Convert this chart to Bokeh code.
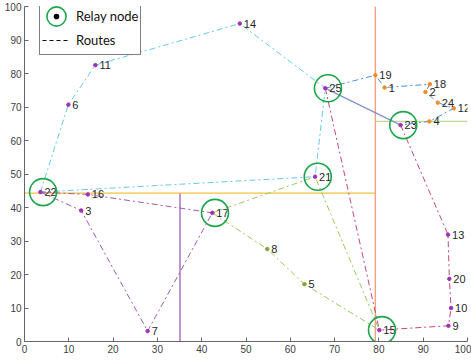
import numpy as np
from bokeh.plotting import figure
from bokeh.models import ColumnDataSource, Legend, LegendItem, Range1d, FixedTicker
from bokeh.embed import file_html
from bokeh.resources import INLINE
from bokeh.core.properties import value
from bokeh.transform import dodge

# ---------------- data ----------------
node_ids = list(range(1, 26))
node_x = [81.3, 90.5, 12.8, 91.4, 63.2, 9.9, 27.8, 54.8, 95.7, 96.3, 16.0, 96.9, 95.6,
          48.6, 80.1, 14.3, 42.4, 91.5, 79.2, 95.9, 65.6, 3.6, 84.9, 93.3, 67.9]
node_y = [75.8, 74.5, 39.1, 65.7, 17.1, 70.7, 3.1, 27.6, 4.7, 10.0, 82.5, 69.6, 31.9,
          94.9, 3.4, 43.9, 38.4, 76.8, 79.5, 18.7, 49.2, 44.6, 64.6, 71.3, 75.6]

relay_nodes = [22, 17, 21, 25, 23, 15]
orange_nodes = [1, 2, 4, 12, 18, 19, 24]
green_nodes = [5, 8]

route_lightblue = [[22, 6, 11, 14, 25, 21, 22]]
route_blue = [[25, 19, 1, 18, 2, 24, 12, 4, 23]]
route_red = [[25, 15], [23, 13, 20, 10, 9, 15]]
route_purple = [[22, 16, 17], [22, 3, 7, 17]]
route_green = [[17, 21, 15], [17, 8, 5, 15]]
direct_link = [[25, 23]]

# partition boundaries
part_x0 = [35.1, 0.0, 79.2, 79.2]
part_y0 = [0.0, 44.3, 0.0, 65.7]
part_x1 = [35.1, 79.2, 79.2, 100.0]
part_y1 = [44.3, 44.3, 100.0, 65.7]
part_colors = ["#a268bd", "#f7c040", "#f4a07c", "#bbdc96"]

ticks = list(range(0, 101, 10))

# ---------------- helpers ----------------
pos = {n: (x, y) for n, x, y in zip(node_ids, node_x, node_y)}

def paths(routes):
    xs = [[pos[n][0] for n in r] for r in routes]
    ys = [[pos[n][1] for n in r] for r in routes]
    return xs, ys

# ---------------- figure ----------------
p = figure(width=471, height=362, x_range=Range1d(0, 100), y_range=Range1d(0, 100),
           output_backend="svg", toolbar_location=None,
           min_border_left=24, min_border_right=4, min_border_top=6, min_border_bottom=21)
p.outline_line_color = None
p.xgrid.grid_line_color = None
p.ygrid.grid_line_color = None
p.background_fill_color = "white"

for ax in (p.xaxis[0], p.yaxis[0]):
    ax.ticker = FixedTicker(ticks=ticks)
    ax.major_tick_in = 4
    ax.major_tick_out = 0
    ax.minor_tick_in = 0
    ax.minor_tick_out = 0
    ax.axis_line_color = "#666666"
    ax.major_tick_line_color = "#666666"
    ax.major_label_text_font = "Liberation Sans"
    ax.major_label_text_font_size = "10px"
    ax.major_label_text_color = "#404040"
    ax.major_label_standoff = 3

# partition lines
p.segment(x0=part_x0, y0=part_y0, x1=part_x1, y1=part_y1,
          line_color=part_colors, line_width=1.4)

dash = "6 3 2 3"
xs, ys = paths(direct_link)
p.multi_line(xs, ys, line_color="#d2708a", line_width=1.6, line_alpha=0.45)
p.multi_line(xs, ys, line_color="#4a8fdc", line_width=0.9)

for routes, col in ((route_lightblue, "#66c8ee"), (route_blue, "#4a8fdc"),
                    (route_red, "#c44a6a"), (route_purple, "#a05ab8"),
                    (route_green, "#9cc958")):
    xs, ys = paths(routes)
    p.multi_line(xs, ys, line_color=col, line_width=1.0, line_dash=dash)

# nodes
node_colors = ["#f28c28" if n in orange_nodes else ("#7ea832" if n in green_nodes else "#a030b8")
               for n in node_ids]
src = ColumnDataSource(dict(x=node_x, y=node_y, c=node_colors,
                            t=[str(n) for n in node_ids]))
p.scatter("x", "y", source=src, size=3.5, fill_color="c", line_color="c")
p.text("x", "y", text="t", source=src, x_offset=4, text_baseline="middle",
       text_font=value("Liberation Sans"), text_font_size="11px", text_color="#262626")

# relay circles
rsrc = ColumnDataSource(dict(x=[pos[n][0] for n in relay_nodes],
                             y=[pos[n][1] for n in relay_nodes]))
relay_r = p.ellipse(x=dodge("x", 0.6, range=p.x_range), y="y", source=rsrc,
                    width=27, height=27, width_units="screen", height_units="screen",
                    fill_color=None, line_color="#1aa64b", line_width=1.6)

# legend helpers
dot_r = p.scatter(x=np.array([np.nan]), y=np.array([np.nan]), marker="circle",
                  fill_color="black", line_color="white", line_width=4)
route_r = p.line(x=np.array([np.nan]), y=np.array([np.nan]), line_color="black",
                 line_dash="4 3", line_width=1)

legend = Legend(items=[LegendItem(label="Relay node", renderers=[relay_r, dot_r], index=0),
                       LegendItem(label="Routes", renderers=[route_r], index=0)],
                location=(15, 286), padding=2, spacing=-5, glyph_width=28, glyph_height=24,
                label_height=18, label_standoff=6, label_text_font="Lato",
                label_text_font_size="13px", label_text_color="#111111",
                border_line_color="black", border_line_width=1,
                background_fill_color="white", background_fill_alpha=1.0, margin=0)
p.add_layout(legend)

open("out.html", "w").write(file_html(p, INLINE))
